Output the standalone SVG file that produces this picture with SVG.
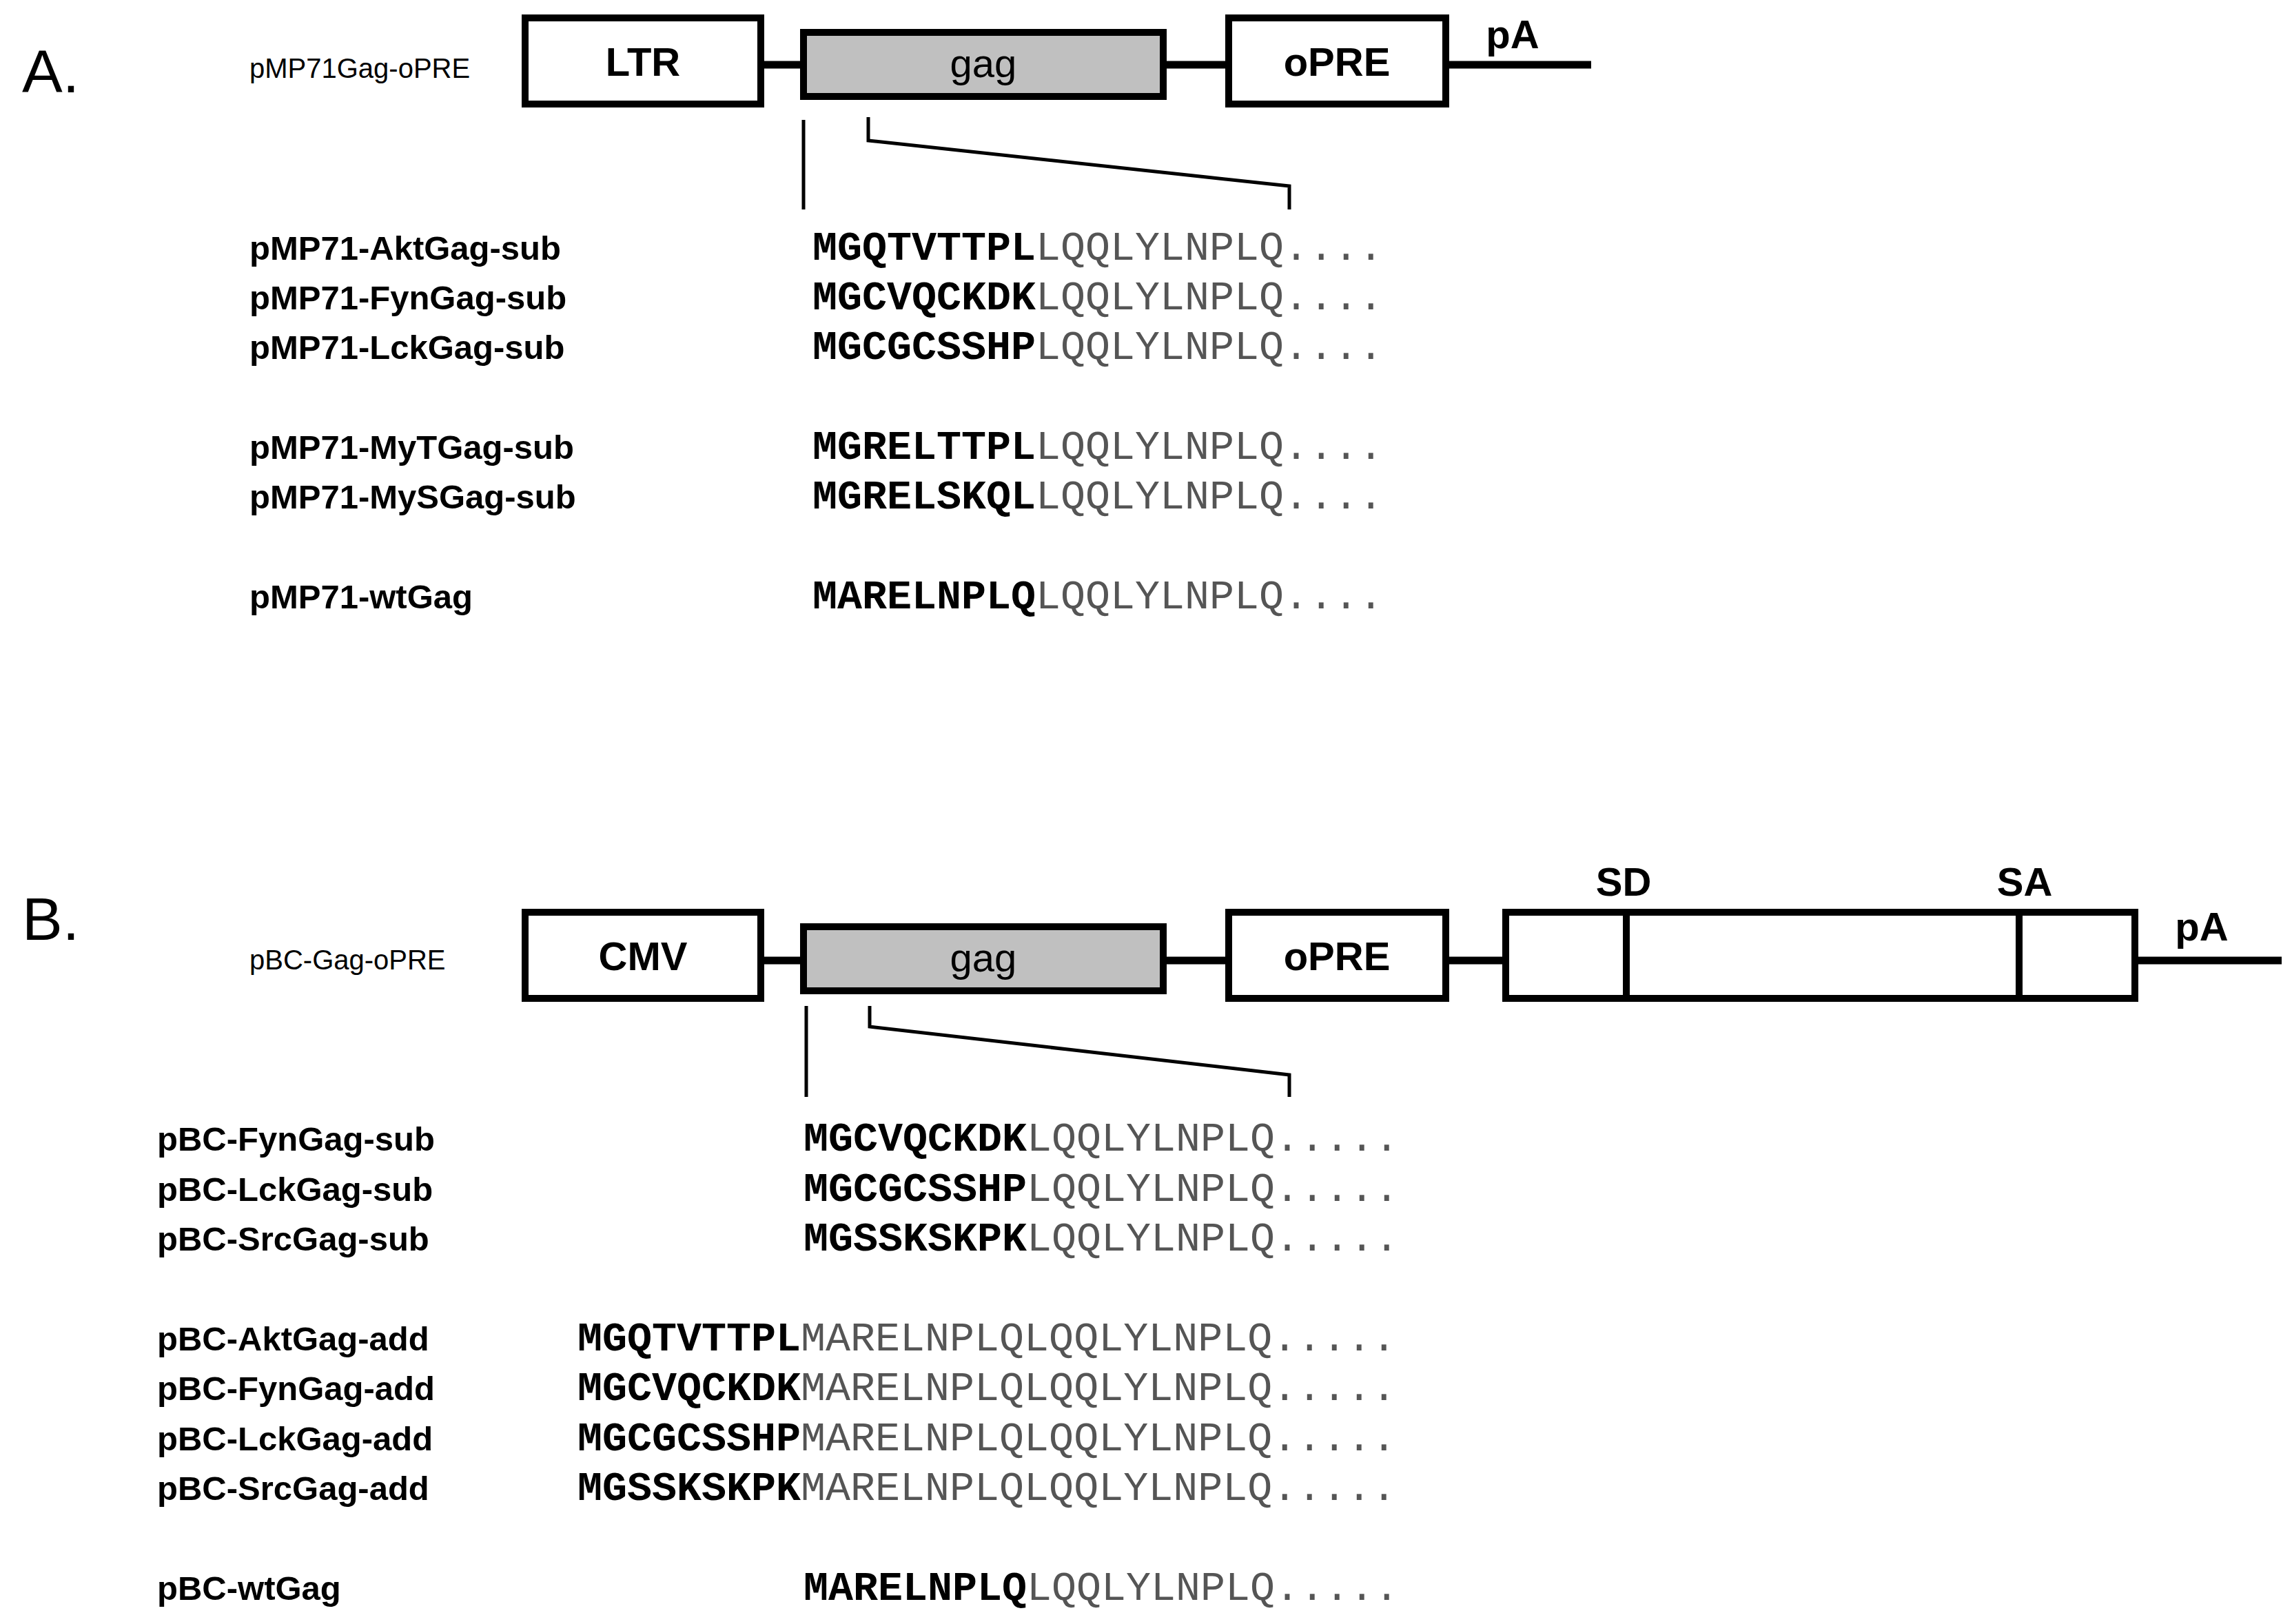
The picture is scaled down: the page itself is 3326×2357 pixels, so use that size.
<svg xmlns="http://www.w3.org/2000/svg" width="3326" height="2357" viewBox="0 0 3326 2357">
<style>
.box{fill:#fff;stroke:#000;stroke-width:10}
.gag{fill:#c0c0c0;stroke:#000;stroke-width:10}
.bb{stroke:#000;stroke-width:11;fill:none}
.ln{stroke:#000;stroke-width:5;fill:none}
.big{font-family:"Liberation Sans",Arial,sans-serif;font-size:88px}
.bt{font-family:"Liberation Sans",Arial,sans-serif;font-size:58px;font-weight:bold;text-anchor:middle}
.gt{font-family:"Liberation Sans",Arial,sans-serif;font-size:58px;text-anchor:middle}
.pl{font-family:"Liberation Sans",Arial,sans-serif;font-size:40px}
.lb{font-family:"Liberation Sans",Arial,sans-serif;font-size:49px;font-weight:bold}
.sq{font-family:"Liberation Mono","Courier New",monospace;font-size:60px;fill:#555}
.sq .b{font-weight:bold;fill:#000}
</style>
<rect width="3326" height="2357" fill="#fff"/>
<text class="big" x="32" y="134">A.</text>
<text class="big" x="32" y="1364">B.</text>
<g id="connectors">
<line class="bb" x1="1104" y1="94" x2="2309" y2="94"/>
<line class="bb" x1="1104" y1="1394" x2="3311" y2="1394"/>
<line class="ln" x1="1166" y1="174" x2="1166" y2="304"/>
<polyline class="ln" points="1260,170 1260,204 1871,270 1871,304"/>
<line class="ln" x1="1170" y1="1460" x2="1170" y2="1592"/>
<polyline class="ln" points="1262,1460 1262,1490 1871,1560 1871,1592"/>
</g>
<g id="labelA"><text class="pl" x="362" y="113">pMP71Gag-oPRE</text></g>
<g id="ltr"><rect class="box" x="762" y="26" width="342" height="125"/><text class="bt" x="933" y="110">LTR</text></g>
<g id="gagA"><rect class="gag" x="1166" y="47" width="522" height="93"/><text class="gt" x="1427" y="112">gag</text></g>
<g id="opreA"><rect class="box" x="1783" y="26" width="315" height="125"/><text class="bt" x="1940" y="110">oPRE</text></g>
<text class="bt" x="2195" y="70">pA</text>
<g id="labelB"><text class="pl" x="362" y="1407">pBC-Gag-oPRE</text></g>
<g id="cmv"><rect class="box" x="762" y="1324" width="342" height="125"/><text class="bt" x="933" y="1408">CMV</text></g>
<g id="gagB"><rect class="gag" x="1166" y="1345" width="522" height="93"/><text class="gt" x="1427" y="1410">gag</text></g>
<g id="opreB"><rect class="box" x="1783" y="1324" width="315" height="125"/><text class="bt" x="1940" y="1408">oPRE</text></g>
<g id="sdsa"><rect class="box" x="2185" y="1324" width="913" height="125"/><line class="box" x1="2360" y1="1324" x2="2360" y2="1449"/><line class="box" x1="2930" y1="1324" x2="2930" y2="1449"/></g>
<text class="bt" x="2356" y="1300">SD</text>
<text class="bt" x="2938" y="1300">SA</text>
<text class="bt" x="3195" y="1365">pA</text>
<g id="rowsA">
<text class="lb" x="362" y="377">pMP71-AktGag-sub</text>
<text class="lb" x="362" y="449">pMP71-FynGag-sub</text>
<text class="lb" x="362" y="521">pMP71-LckGag-sub</text>
<text class="lb" x="362" y="666">pMP71-MyTGag-sub</text>
<text class="lb" x="362" y="738">pMP71-MySGag-sub</text>
<text class="lb" x="362" y="883">pMP71-wtGag</text>
<text class="sq" x="1179" y="377"><tspan class="b">MGQTVTTPL</tspan>LQQLYLNPLQ....</text>
<text class="sq" x="1179" y="449"><tspan class="b">MGCVQCKDK</tspan>LQQLYLNPLQ....</text>
<text class="sq" x="1179" y="521"><tspan class="b">MGCGCSSHP</tspan>LQQLYLNPLQ....</text>
<text class="sq" x="1179" y="666"><tspan class="b">MGRELTTPL</tspan>LQQLYLNPLQ....</text>
<text class="sq" x="1179" y="738"><tspan class="b">MGRELSKQL</tspan>LQQLYLNPLQ....</text>
<text class="sq" x="1179" y="883"><tspan class="b">MARELNPLQ</tspan>LQQLYLNPLQ....</text>
</g>
<g id="rowsB">
<text class="lb" x="228" y="1670">pBC-FynGag-sub</text>
<text class="lb" x="228" y="1743">pBC-LckGag-sub</text>
<text class="lb" x="228" y="1815">pBC-SrcGag-sub</text>
<text class="lb" x="228" y="1960">pBC-AktGag-add</text>
<text class="lb" x="228" y="2032">pBC-FynGag-add</text>
<text class="lb" x="228" y="2105">pBC-LckGag-add</text>
<text class="lb" x="228" y="2177">pBC-SrcGag-add</text>
<text class="lb" x="228" y="2322">pBC-wtGag</text>
<text class="sq" x="1166" y="1670"><tspan class="b">MGCVQCKDK</tspan>LQQLYLNPLQ.....</text>
<text class="sq" x="1166" y="1743"><tspan class="b">MGCGCSSHP</tspan>LQQLYLNPLQ.....</text>
<text class="sq" x="1166" y="1815"><tspan class="b">MGSSKSKPK</tspan>LQQLYLNPLQ.....</text>
<text class="sq" x="838" y="1960"><tspan class="b">MGQTVTTPL</tspan>MARELNPLQLQQLYLNPLQ.....</text>
<text class="sq" x="838" y="2032"><tspan class="b">MGCVQCKDK</tspan>MARELNPLQLQQLYLNPLQ.....</text>
<text class="sq" x="838" y="2105"><tspan class="b">MGCGCSSHP</tspan>MARELNPLQLQQLYLNPLQ.....</text>
<text class="sq" x="838" y="2177"><tspan class="b">MGSSKSKPK</tspan>MARELNPLQLQQLYLNPLQ.....</text>
<text class="sq" x="1166" y="2322"><tspan class="b">MARELNPLQ</tspan>LQQLYLNPLQ.....</text>
</g>
</svg>
